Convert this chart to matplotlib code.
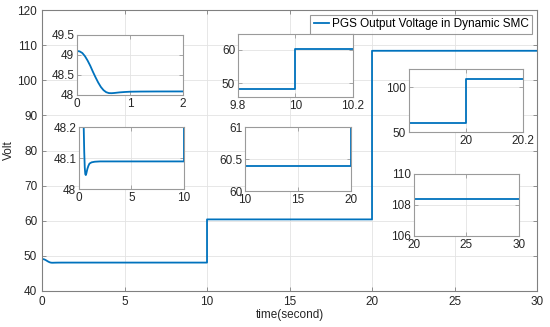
import matplotlib

matplotlib.use("Agg")
import matplotlib.pyplot as plt
import numpy as np

plt.rcParams["font.family"] = ["Liberation Sans", "DejaVu Sans"]

LINE_COLOR = "#0072BD"
LEGEND_LABEL = "PGS Output Voltage in Dynamic SMC"

# start-up transient (time in s, volts)
T_START = [0.0, 0.05, 0.1, 0.15, 0.2, 0.25, 0.3, 0.35, 0.4, 0.45, 0.5, 0.55, 0.6,
           0.65, 0.7, 0.8, 0.9, 1.0, 1.2, 1.5, 2.0]
V_START = [49.10, 49.09, 49.05, 48.97, 48.86, 48.73, 48.58, 48.44, 48.31, 48.20,
           48.12, 48.07, 48.048, 48.045, 48.05, 48.065, 48.075, 48.082, 48.086,
           48.088, 48.089]

# steady levels between the load steps
STEP_TIMES = [10.0, 20.0, 30.0]
LEVELS = [48.089, 60.386, 108.39]

# inset windows: (position in figure, xlim, ylim, xticks, yticks)
INSETS = [
    ([0.140, 0.7095, 0.193, 0.1835], (0, 2), (48, 49.5), [0, 1, 2], [48, 48.5, 49, 49.5]),
    ([0.4327, 0.7034, 0.209, 0.1927], (9.8, 10.2), (45.8, 64.8), [9.8, 10, 10.2], [50, 60]),
    ([0.7436, 0.5963, 0.2073, 0.1927], (19.8, 20.2), (50, 120), [20, 20.2], [50, 100]),
    ([0.1436, 0.422, 0.1909, 0.1896], (0, 10), (48, 48.2), [0, 5, 10], [48, 48.1, 48.2]),
    ([0.4455, 0.4159, 0.1927, 0.1957], (10, 20), (60, 61), [10, 15, 20], [60, 60.5, 61]),
    ([0.7527, 0.2783, 0.1909, 0.1896], (20, 30), (106, 110), [20, 25, 30], [106, 108, 110]),
]


def build_series():
    t = list(T_START)
    v = list(V_START)
    t.append(STEP_TIMES[0])
    v.append(LEVELS[0])
    for k in range(1, len(LEVELS)):
        t += [STEP_TIMES[k - 1], STEP_TIMES[k]]
        v += [LEVELS[k], LEVELS[k]]
    return np.array(t), np.array(v)


def matlab_style(ax, edge):
    for spine in ax.spines.values():
        spine.set_color(edge)
        spine.set_linewidth(0.8)
    ax.tick_params(direction="in", colors="#262626", labelsize=8.5, length=3,
                   top=True, right=True, width=0.6)
    ax.tick_params(axis="both", color=edge)
    ax.grid(True, color="#e3e3e3", linewidth=0.6)
    ax.set_axisbelow(True)


t, v = build_series()

fig = plt.figure(figsize=(5.5, 3.27), dpi=100)
ax = fig.add_axes([0.0764, 0.1101, 0.9, 0.8593])
ax.plot(t, v, color=LINE_COLOR, linewidth=1.3, label=LEGEND_LABEL)
ax.set_xlim(0, 30)
ax.set_ylim(40, 120)
ax.set_xticks([0, 5, 10, 15, 20, 25, 30])
ax.set_yticks(range(40, 121, 10))
matlab_style(ax, "#808080")
ax.set_xlabel("time(second)", fontsize=8.5, color="#262626", labelpad=1)
ax.set_ylabel("Volt", fontsize=8.5, color="#262626", labelpad=2)
leg = ax.legend(loc="upper right", fontsize=8.5, frameon=True, fancybox=False,
                borderaxespad=0.4, handlelength=1.3, handletextpad=0.25,
                borderpad=0.3)
leg.get_frame().set_edgecolor("#808080")
leg.get_frame().set_linewidth(0.8)

for pos, xlim, ylim, xticks, yticks in INSETS:
    ins = fig.add_axes(pos)
    ins.plot(t, v, color=LINE_COLOR, linewidth=1.3)
    ins.set_xlim(*xlim)
    ins.set_ylim(*ylim)
    ins.set_xticks(xticks)
    ins.set_yticks(yticks)
    ins.set_xticklabels([f"{x:g}" for x in xticks])
    ins.set_yticklabels([f"{y:g}" for y in yticks])
    matlab_style(ins, "#9a9a9a")
    ins.tick_params(pad=2)

fig.savefig("out.png", dpi=100)
